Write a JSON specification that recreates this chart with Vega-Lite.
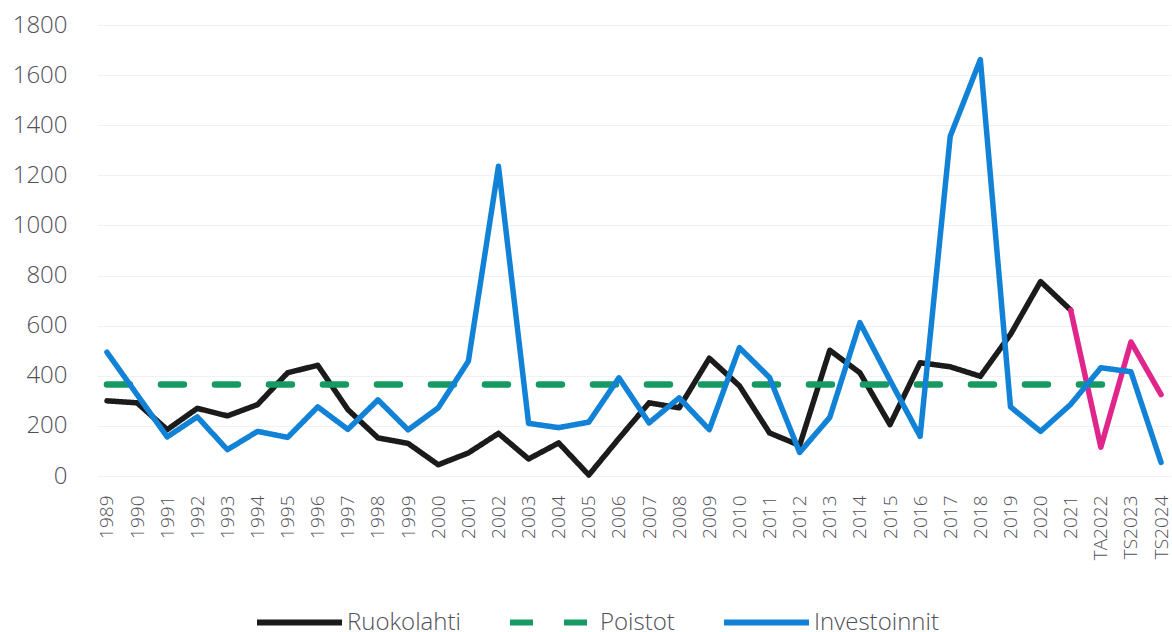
{
  "$schema": "https://vega.github.io/schema/vega-lite/v6.json",
  "autosize": "none",
  "width": 1074,
  "height": 451,
  "padding": {"left": 97, "top": 25, "right": 1, "bottom": 156},
  "background": "white",
  "config": {
    "view": {"stroke": null},
    "font": "Open Sans",
    "axis": {"labelFont": "Open Sans", "labelColor": "#50505a", "labelFontWeight": 300, "domain": false, "ticks": false, "title": null},
    "legend": {"labelFont": "Open Sans", "labelColor": "#50505a", "labelFontWeight": 300}
  },
  "data": {
    "values": [
      {"x": "1989", "series": "Ruokolahti", "value": 300},
      {"x": "1990", "series": "Ruokolahti", "value": 292},
      {"x": "1991", "series": "Ruokolahti", "value": 185},
      {"x": "1992", "series": "Ruokolahti", "value": 270},
      {"x": "1993", "series": "Ruokolahti", "value": 240},
      {"x": "1994", "series": "Ruokolahti", "value": 285},
      {"x": "1995", "series": "Ruokolahti", "value": 412},
      {"x": "1996", "series": "Ruokolahti", "value": 442},
      {"x": "1997", "series": "Ruokolahti", "value": 265},
      {"x": "1998", "series": "Ruokolahti", "value": 152},
      {"x": "1999", "series": "Ruokolahti", "value": 130},
      {"x": "2000", "series": "Ruokolahti", "value": 45},
      {"x": "2001", "series": "Ruokolahti", "value": 92},
      {"x": "2002", "series": "Ruokolahti", "value": 170},
      {"x": "2003", "series": "Ruokolahti", "value": 68},
      {"x": "2004", "series": "Ruokolahti", "value": 132},
      {"x": "2005", "series": "Ruokolahti", "value": 4},
      {"x": "2006", "series": "Ruokolahti", "value": 150},
      {"x": "2007", "series": "Ruokolahti", "value": 292},
      {"x": "2008", "series": "Ruokolahti", "value": 272},
      {"x": "2009", "series": "Ruokolahti", "value": 470},
      {"x": "2010", "series": "Ruokolahti", "value": 360},
      {"x": "2011", "series": "Ruokolahti", "value": 172},
      {"x": "2012", "series": "Ruokolahti", "value": 122},
      {"x": "2013", "series": "Ruokolahti", "value": 502},
      {"x": "2014", "series": "Ruokolahti", "value": 412},
      {"x": "2015", "series": "Ruokolahti", "value": 205},
      {"x": "2016", "series": "Ruokolahti", "value": 452},
      {"x": "2017", "series": "Ruokolahti", "value": 436},
      {"x": "2018", "series": "Ruokolahti", "value": 398},
      {"x": "2019", "series": "Ruokolahti", "value": 565},
      {"x": "2020", "series": "Ruokolahti", "value": 776},
      {"x": "2021", "series": "Ruokolahti", "value": 662},
      {"x": "2021", "series": "Ruokolahti ennuste", "value": 662},
      {"x": "TA2022", "series": "Ruokolahti ennuste", "value": 115},
      {"x": "TS2023", "series": "Ruokolahti ennuste", "value": 535},
      {"x": "TS2024", "series": "Ruokolahti ennuste", "value": 325},
      {"x": "1989", "series": "Poistot", "value": 365},
      {"x": "1990", "series": "Poistot", "value": 365},
      {"x": "1991", "series": "Poistot", "value": 365},
      {"x": "1992", "series": "Poistot", "value": 365},
      {"x": "1993", "series": "Poistot", "value": 365},
      {"x": "1994", "series": "Poistot", "value": 365},
      {"x": "1995", "series": "Poistot", "value": 365},
      {"x": "1996", "series": "Poistot", "value": 365},
      {"x": "1997", "series": "Poistot", "value": 365},
      {"x": "1998", "series": "Poistot", "value": 365},
      {"x": "1999", "series": "Poistot", "value": 365},
      {"x": "2000", "series": "Poistot", "value": 365},
      {"x": "2001", "series": "Poistot", "value": 365},
      {"x": "2002", "series": "Poistot", "value": 365},
      {"x": "2003", "series": "Poistot", "value": 365},
      {"x": "2004", "series": "Poistot", "value": 365},
      {"x": "2005", "series": "Poistot", "value": 365},
      {"x": "2006", "series": "Poistot", "value": 365},
      {"x": "2007", "series": "Poistot", "value": 365},
      {"x": "2008", "series": "Poistot", "value": 365},
      {"x": "2009", "series": "Poistot", "value": 365},
      {"x": "2010", "series": "Poistot", "value": 365},
      {"x": "2011", "series": "Poistot", "value": 365},
      {"x": "2012", "series": "Poistot", "value": 365},
      {"x": "2013", "series": "Poistot", "value": 365},
      {"x": "2014", "series": "Poistot", "value": 365},
      {"x": "2015", "series": "Poistot", "value": 365},
      {"x": "2016", "series": "Poistot", "value": 365},
      {"x": "2017", "series": "Poistot", "value": 365},
      {"x": "2018", "series": "Poistot", "value": 365},
      {"x": "2019", "series": "Poistot", "value": 365},
      {"x": "2020", "series": "Poistot", "value": 365},
      {"x": "2021", "series": "Poistot", "value": 365},
      {"x": "TA2022", "series": "Poistot", "value": 365},
      {"x": "TS2023", "series": "Poistot", "value": 365},
      {"x": "1989", "series": "Investoinnit", "value": 494},
      {"x": "1990", "series": "Investoinnit", "value": 325},
      {"x": "1991", "series": "Investoinnit", "value": 156},
      {"x": "1992", "series": "Investoinnit", "value": 236},
      {"x": "1993", "series": "Investoinnit", "value": 105},
      {"x": "1994", "series": "Investoinnit", "value": 178},
      {"x": "1995", "series": "Investoinnit", "value": 154},
      {"x": "1996", "series": "Investoinnit", "value": 276},
      {"x": "1997", "series": "Investoinnit", "value": 186},
      {"x": "1998", "series": "Investoinnit", "value": 304},
      {"x": "1999", "series": "Investoinnit", "value": 184},
      {"x": "2000", "series": "Investoinnit", "value": 272},
      {"x": "2001", "series": "Investoinnit", "value": 458},
      {"x": "2002", "series": "Investoinnit", "value": 1236},
      {"x": "2003", "series": "Investoinnit", "value": 210},
      {"x": "2004", "series": "Investoinnit", "value": 193},
      {"x": "2005", "series": "Investoinnit", "value": 215},
      {"x": "2006", "series": "Investoinnit", "value": 392},
      {"x": "2007", "series": "Investoinnit", "value": 212},
      {"x": "2008", "series": "Investoinnit", "value": 312},
      {"x": "2009", "series": "Investoinnit", "value": 185},
      {"x": "2010", "series": "Investoinnit", "value": 512},
      {"x": "2011", "series": "Investoinnit", "value": 393},
      {"x": "2012", "series": "Investoinnit", "value": 94},
      {"x": "2013", "series": "Investoinnit", "value": 234},
      {"x": "2014", "series": "Investoinnit", "value": 612},
      {"x": "2015", "series": "Investoinnit", "value": 382},
      {"x": "2016", "series": "Investoinnit", "value": 158},
      {"x": "2017", "series": "Investoinnit", "value": 1356},
      {"x": "2018", "series": "Investoinnit", "value": 1662},
      {"x": "2019", "series": "Investoinnit", "value": 276},
      {"x": "2020", "series": "Investoinnit", "value": 178},
      {"x": "2021", "series": "Investoinnit", "value": 286},
      {"x": "TA2022", "series": "Investoinnit", "value": 432},
      {"x": "TS2023", "series": "Investoinnit", "value": 416},
      {"x": "TS2024", "series": "Investoinnit", "value": 54}
    ]
  },
  "encoding": {
    "x": {
      "field": "x", "type": "nominal",
      "scale": {"type": "point", "padding": 0.33, "domain": ["1989","1990","1991","1992","1993","1994","1995","1996","1997","1998","1999","2000","2001","2002","2003","2004","2005","2006","2007","2008","2009","2010","2011","2012","2013","2014","2015","2016","2017","2018","2019","2020","2021","TA2022","TS2023","TS2024"]},
      "axis": {"labelAngle": -90, "labelFontSize": 19, "labelPadding": 19, "grid": false, "labelAlign": "right", "labelBaseline": "middle"}
    },
    "y": {
      "field": "value", "type": "quantitative",
      "scale": {"domain": [0, 1800], "nice": false},
      "axis": {"values": [0,200,400,600,800,1000,1200,1400,1600,1800], "format": "d", "labelFontSize": 24, "labelPadding": 30, "grid": true, "gridColor": "#f1f1f1", "gridWidth": 1}
    }
  },
  "layer": [
    {
      "transform": [{"filter": "datum.series === 'Ruokolahti'"}],
      "mark": {"type": "line", "strokeWidth": 5.5, "strokeCap": "round", "strokeJoin": "round"},
      "encoding": {
        "color": {"field": "series", "type": "nominal", "scale": {"domain": ["Ruokolahti", "Poistot", "Investoinnit"], "range": ["#1b1b1b", "#179a62", "#1282d6"]},
          "legend": {"orient": "none", "legendX": 157, "legendY": 552, "direction": "horizontal", "gridAlign": "none", "title": null, "symbolType": "stroke", "symbolSize": 7225, "symbolStrokeWidth": 6, "labelFontSize": 24, "labelOffset": 2, "columnPadding": 37, "symbolOpacity": 1}},
        "strokeDash": {"field": "series", "type": "nominal", "scale": {"domain": ["Ruokolahti", "Poistot", "Investoinnit"], "range": [[1,0],[23,31],[1,0]]}}
      }
    },
    {
      "transform": [{"filter": "datum.series === 'Ruokolahti ennuste'"}],
      "mark": {"type": "line", "strokeWidth": 5.5, "strokeCap": "round", "strokeJoin": "round", "color": "#e0258b"},
      "encoding": {}
    },
    {
      "transform": [{"filter": "datum.series === 'Poistot'"}],
      "mark": {"type": "line", "strokeWidth": 6.5, "strokeCap": "round", "strokeJoin": "round"},
      "encoding": {
        "color": {"field": "series", "type": "nominal"},
        "strokeDash": {"field": "series", "type": "nominal"}
      }
    },
    {
      "transform": [{"filter": "datum.series === 'Investoinnit'"}],
      "mark": {"type": "line", "strokeWidth": 5.5, "strokeCap": "round", "strokeJoin": "round"},
      "encoding": {
        "color": {"field": "series", "type": "nominal"},
        "strokeDash": {"field": "series", "type": "nominal"}
      }
    }
  ]
}
